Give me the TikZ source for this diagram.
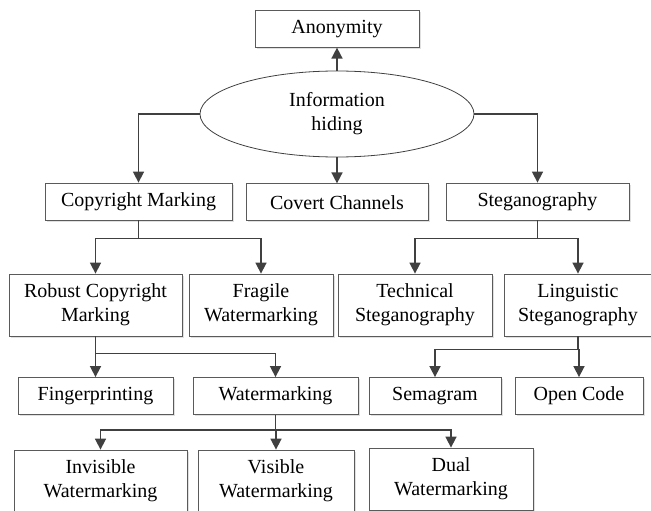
\documentclass[tikz,border=0pt]{standalone}
\usepackage{fontspec}
\setmainfont{Liberation Serif}
\usepackage{tikz}
\usetikzlibrary{positioning,shapes.geometric,arrows.meta,shadows}
\definecolor{linegrey}{HTML}{404040}
\definecolor{boxgrey}{HTML}{5A5A5A}
\pgfmathsetmacro{\boxlow}{37}
\pgfmathsetmacro{\boxhigh}{62}

\begin{document}
\begin{tikzpicture}[x=1pt, y=-1pt,
    every node/.style={font=\fontsize{20}{24}\selectfont, align=center, inner sep=2pt},
    topic/.style={draw=boxgrey, line width=0.8pt, fill=white, minimum height=\boxlow*1pt,
        drop shadow={shadow xshift=1.6pt, shadow yshift=-1.6pt, fill=black!20, opacity=0.6}},
    subtopic/.style={topic, minimum height=\boxhigh*1pt},
    root/.style={ellipse, draw=linegrey, line width=0.8pt, inner sep=0pt,
        minimum width=274pt, minimum height=86pt},
    link/.style={draw=linegrey, line width=1.6pt, -{Triangle[length=11pt, width=11pt]}},
    trunk/.style={draw=linegrey, line width=1.6pt}
]
    \useasboundingbox (0,0) rectangle (651,511);
    % define nodes
    % centre
    \node[root] (info) at (337,114) {Information\\hiding};
    \node[topic, minimum width=164pt, above=23pt of info] (anon) {Anonymity};
    \node[topic, minimum width=182pt, below=26pt of info] (covert) {Covert Channels};
    % first level
    \node[topic, minimum width=187pt] (copy) at (138.5,201.5) {Copyright Marking};
    \node[topic, minimum width=183pt] (steg) at (537.5,201.5) {Steganography};
    % second level
    \node[subtopic, minimum width=173pt] (robust) at (95.5,305) {Robust Copyright\\Marking};
    \node[subtopic, minimum width=144pt] (fragile) at (261,305) {Fragile\\Watermarking};
    \node[subtopic, minimum width=154pt] (technical) at (415,305) {Technical\\Steganography};
    \node[subtopic, minimum width=148pt] (linguistic) at (578,305) {Linguistic\\Steganography};
    % third level
    \node[topic, minimum width=155pt] (finger) at (95.5,396) {Fingerprinting};
    \node[topic, minimum width=165pt] (water) at (275.5,396) {Watermarking};
    \node[topic, minimum width=132pt] (sema) at (435,396) {Semagram};
    \node[topic, minimum width=128pt] (open) at (579,396) {Open Code};
    % fourth level
    \node[subtopic, minimum width=173pt] (invisible) at (100.5,481) {Invisible\\Watermarking};
    \node[subtopic, minimum width=156pt] (visible) at (276,481) {Visible\\Watermarking};
    \node[subtopic, minimum width=164pt] (dual) at (451,479) {Dual\\Watermarking};
    % junctions
    \path (copy.south) ++(0,18) coordinate (jcopy);
    \path (steg.south) ++(0,18) coordinate (jsteg);
    \path (robust.south) ++(0,17) coordinate (jrobust);
    \path (linguistic.south) ++(0,13) coordinate (jling);
    \path (water.south) ++(0,15) coordinate (jwater);
    % draw connectors
    \draw[link] (info.north) -- (anon.south);
    \draw[link] (info.south) -- (covert.north);
    \draw[link] (info.west) -| (copy.north);
    \draw[link] (info.east) -| (steg.north);
    \draw[trunk] (copy.south) -- (jcopy);
    \draw[link] (jcopy) -| (robust.north);
    \draw[link] (jcopy) -| (fragile.north);
    \draw[trunk] (steg.south) -- (jsteg);
    \draw[link] (jsteg) -| (technical.north);
    \draw[link] (jsteg) -| (linguistic.north);
    \draw[trunk] (robust.south) -- (jrobust);
    \draw[link] (jrobust) -| (finger.north);
    \draw[link] (jrobust) -| (water.north);
    \draw[trunk] (linguistic.south) -- (jling);
    \draw[link] (jling) -| (sema.north);
    \draw[link] (jling) -| (open.north);
    \draw[trunk] (water.south) -- (jwater);
    \draw[link] (jwater) -| (invisible.north);
    \draw[link] (jwater) -| (visible.north);
    \draw[link] (jwater) -| (dual.north);
\end{tikzpicture}
\end{document}
